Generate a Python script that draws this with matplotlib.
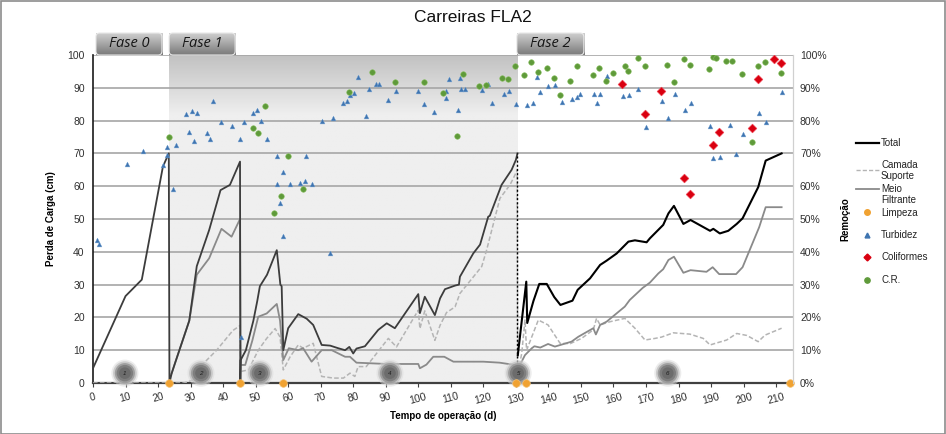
import numpy as np
import matplotlib
matplotlib.use("Agg")
import matplotlib.pyplot as plt
from matplotlib.patches import FancyBboxPatch, Rectangle
from matplotlib.lines import Line2D
import matplotlib.colors as mcolors

plt.rcParams['font.family'] = ['Liberation Sans', 'DejaVu Sans']

# ---------------- data ----------------
total_a_x = [0, 10, 15, 21.5, 23.3, 23.5, 24.2, 25.2, 29.6, 31.9, 35.7, 39.2, 42.1, 45.2, 45.3,
             45.4, 47, 49.3, 50.5, 51.3, 53.5, 56.5, 57.6, 58.0, 58.5, 60, 63.1, 65.7, 67.7, 70.3,
             72.9, 75.4, 77.5, 78.8, 80, 81, 83.6, 87.7, 90.3, 92.8, 100, 100.5, 102, 105.1,
             106.7, 108.2, 111.3, 112.5, 112.8, 116.9, 119, 121.5, 122, 125.6, 128.7, 130, 130.5]
total_a_y = [4.5, 26.5, 31.5, 66, 70, 0, 3, 6, 19, 35.6, 46.6, 58.8, 60.4, 67.5, 0,
             7, 10, 19, 25, 29.5, 33, 40.5, 30, 29.5, 10, 16.7, 21, 19.6, 17.7, 11.6,
             11.4, 10.6, 10, 11, 9, 10.5, 11.2, 16.2, 18.2, 16.7, 27.1, 21.3, 26.3, 20.7,
             25.8, 28.6, 29.7, 30, 32.4, 39.5, 42.2, 50.7, 51, 60.4, 65, 68, 70]

total_b_x = [130.6, 133.2, 133.5, 135.4, 137.2, 139.5, 141.8, 143.7, 147.4, 149.0, 152.8, 155.9,
             157.9, 161, 164.6, 166.6, 170.2, 171.2, 175.3, 176.9, 178.6, 181.5, 183.7, 189.7,
             190.7, 192.7, 195.3, 197.9, 199.7, 204.5, 206.8, 211.7]
total_b_y = [8.5, 30.9, 18.3, 25, 30.2, 30.2, 26.2, 23.8, 25.1, 28.4, 31.9, 36,
             37.3, 39.5, 43.1, 43.5, 42.9, 44.1, 48.2, 51.7, 54, 48.5, 49.7, 46.4,
             47, 45.6, 46.4, 48.5, 50.2, 59.7, 67.8, 70]

meio_x = [24.2, 25.2, 29.6, 31.9, 35.7, 39.5, 42.6, 45.2, 45.4, 46.8, 49, 50.8, 53.4, 56.5,
          57.5, 58.5, 60.2, 63.1, 64.6, 67.2, 70.3, 73.4, 77.5, 79, 81, 90.2, 100, 100.5,
          102.5, 104.6, 108, 110.8, 113, 120, 125, 129.7, 130.5, 132.8, 134.9, 135.7, 137.5,
          139.9, 142, 147.1, 149.2, 153.8, 154.6, 155.9, 157.9, 163.5, 165, 169, 171.2,
          173.8, 175.3, 176.9, 178.6, 181.5, 183.7, 188.6, 190.5, 192.5, 197.7, 199.7,
          204.8, 206.8, 211.7]
meio_y = [3, 6, 19, 33, 38, 47, 44.6, 50, 5.5, 5.5, 13, 20.2, 21.2, 24.1,
          19, 7, 10.6, 10, 10.6, 6.5, 10, 10, 8, 8, 6.2, 5.8, 5.8, 4.5,
          5.6, 8, 8, 6.5, 6.5, 6.5, 6.2, 5.5, 4, 8.5, 10.6, 11.2, 10.8,
          11.9, 11.1, 12.6, 14.1, 16.7, 14.8, 17.7, 18.7, 23.3, 25.3, 29, 30.6,
          33.4, 34.7, 37.5, 38.5, 33.6, 34.4, 33.9, 35.3, 33.2, 33.2, 35.3,
          47.5, 53.6, 53.6]

camada_x = [0, 28, 31, 33, 38, 43, 45.2, 45.4, 47.8, 50.8, 53.4, 56, 57.5, 58.5, 60.6, 63.1,
            64.6, 67.7, 70.3, 73.9, 77, 79, 80.5, 81.5, 84, 90.8, 93.3, 100, 100.5, 102,
            105.1, 106.7, 108.7, 111.3, 112.8, 119.5, 121, 125.1, 128.2, 129.7, 130.4,
            130.6, 131.8, 132.8, 133.3, 136.9, 139.9, 143.6, 146.7, 150.2, 153.8, 154.8,
            155.9, 159, 163.5, 166.6, 169.7, 172.8, 174.8, 178.4, 183.5, 187.6, 189.7,
            191.7, 194.8, 197.9, 201, 204.5, 206.6, 211.7]
camada_y = [0, 0, 1, 5, 10, 16, 17.5, 3.5, 4, 10, 13.6, 16.6, 14, 4, 8, 11.6,
            10.6, 12.1, 2, 1.5, 1.5, 3, 2, 5, 5, 13.6, 11, 22.2, 16.6, 22,
            13, 17.6, 21.5, 23.2, 27.3, 35.5, 40.5, 56.3, 60.4, 63.4, 65,
            3, 9, 19.2, 10, 19.2, 17.7, 12.1, 12, 13.6, 16.2, 19.7,
            17.7, 18.7, 19.7, 16.7, 13.1, 13.6, 14, 15.3, 14.9, 13.6, 11.6,
            12.2, 13.1, 15.1, 14.5, 12.6, 14.6, 16.7]

limpeza_x = [23.3, 45.2, 58.3, 130.1, 133.1, 214.3]
limpeza_y = [0, 0, 0, 0, 0, 0]

turb_x = [1.3, 1.8, 10.4, 15.5, 21.6, 22.6, 22.8, 24.5, 25.5, 28.6, 29.6, 30.3, 31, 32.1, 35, 36,
          37, 39.3, 42.6, 45.2, 45.4, 46.5, 49.3, 50.5, 51.5, 53.4, 56.5, 56.5, 57.5, 58.3, 58.5,
          60.6, 63.6, 65.2, 65.5, 67.4, 70.3, 72.9, 73.9, 77, 78, 79, 80.2, 81.4, 83.9, 84.8,
          87, 88, 90.8, 93, 100, 101.9, 104.8, 108.4, 108.6, 109.5, 112.3, 112.8, 113, 114.5,
          119.5, 121.5, 122.8, 126.4, 128, 129.9, 133.3, 135.4, 136.4, 137.4, 140, 142, 144.1,
          147.2, 148.9, 149.7, 154.1, 154.8, 155.9, 157.9, 162.8, 164.9, 167.7, 170, 174.8,
          176.9, 178.8, 182, 183.7, 189.7, 190.7, 192.7, 195.8, 197.7, 199.7, 204.7, 206.8, 211.7]
turb_y = [43.6, 42.4, 66.9, 70.7, 66.5, 71.8, 69.5, 59.1, 72.6, 82, 76.4, 83, 73.9, 82.2, 76.1, 74.4,
          86.1, 79.5, 78.4, 74.3, 14.1, 79.5, 82.2, 83.2, 79.9, 74.4, 69.3, 60.6, 55, 64.2, 44.8,
          60.6, 60.9, 61.7, 69.3, 60.6, 80, 39.5, 80.9, 85.3, 86.1, 87.8, 88.3, 93.4, 81.4, 89.5,
          91.1, 91.1, 86.3, 89, 89, 85.1, 82.7, 86.8, 89.1, 92.6, 83.2, 93.1, 89.6, 89.6,
          89.3, 91.2, 85.3, 88, 89, 85, 84.7, 85.5, 93.4, 88.7, 90.5, 90.9, 85.7,
          86.7, 87.3, 88, 88, 85.3, 88, 93.7, 87.5, 87.7, 89.5, 78.1, 86.1,
          80.7, 88.1, 83.2, 85.3, 78.4, 68.7, 69, 78.8, 69.7, 75.9, 82.2, 79.6, 88.8]

coli_x = [162.7, 169.7, 174.6, 181.7, 183.6, 190.5, 192.5, 202.5, 204.5, 209.4, 211.5]
coli_y = [91.3, 81.9, 89.1, 62.4, 57.5, 72.6, 76.5, 77.8, 92.7, 98.8, 97.5]

cr_x = [23.4, 49.3, 50.8, 52.9, 55.7, 57.8, 59.8, 64.6, 78.8, 85.8, 92.7, 101.7, 107.7, 111.8,
        113.6, 118.7, 120.7, 125.7, 127.7, 129.6, 132.6, 134.5, 136.7, 139.7, 141.7, 143.6,
        146.6, 148.7, 153.6, 155.6, 157.7, 159.8, 163.5, 164.6, 167.6, 169.7, 176.5, 178.7,
        181.7, 183.6, 189.4, 190.5, 191.5, 194.6, 196.5, 199.6, 202.5, 204.5, 206.6, 211.5]
cr_y = [74.9, 77.8, 76.1, 84.5, 51.9, 57, 69.2, 59.1, 88.8, 94.8, 91.9, 91.7, 88.5, 75.3,
        94.1, 90.5, 90.9, 93.1, 92.6, 96.6, 93.9, 97.9, 94.9, 96, 93, 87.9,
        92.2, 96.5, 93.9, 95.9, 92.2, 94.4, 96.7, 95.1, 99, 96.7, 97, 91.8,
        98.8, 97, 95.7, 99.5, 99.2, 98.3, 98.3, 94.1, 73.4, 96.7, 97.9, 94.6]

stage_x = [9.8, 33.2, 51.3, 91.3, 130.7, 176.7]
stage_labels = ['1', '2', '3', '4', '5', '6']

fase_labels = ['Fase 0', 'Fase 1', 'Fase 2']
fase_x0 = [0.9, 23.4, 130.3]
fase_x1 = [21.2, 43.7, 150.9]

x_ticks = list(range(0, 211, 10))
y_ticks = list(range(0, 101, 10))

# ---------------- figure ----------------
W, H = 946, 434
fig = plt.figure(figsize=(W / 100, H / 100), dpi=100)
fig.patch.set_facecolor('white')
fig.add_artist(Rectangle((0.5 / W, 0.5 / H), 1 - 1.5 / W, 1 - 1.5 / H, transform=fig.transFigure,
                         fill=False, edgecolor='#8c8c8c', lw=1.2))

ax = fig.add_axes([93 / W, 1 - 383 / H, 700 / W, 328 / H])
XMAX = 215.2
ax.set_xlim(0, XMAX)
ax.set_ylim(0, 100)

# shaded region with gradient at top
ny = 200
yy = np.linspace(100, 0, ny)
t = np.clip((100 - yy) / 18.0, 0, 1)
top = np.array(mcolors.to_rgb('#c2c2c2'))
bot = np.array(mcolors.to_rgb('#efefef'))
cols = top[None, :] * (1 - t[:, None]) + bot[None, :] * t[:, None]
img = np.repeat(cols[:, None, :], 2, axis=1)
ax.imshow(img, extent=[23.5, 130.5, 0, 100], aspect='auto', zorder=0, interpolation='bilinear')
ax.set_xlim(0, XMAX)
ax.set_ylim(0, 100)

for yv in y_ticks[1:]:
    ax.axhline(yv, color='#a6a6a6', lw=1.2, zorder=1)

# lines
ax.plot(camada_x, camada_y, color='#b4b4b4', lw=1.1, ls=(0, (3, 1.5)), zorder=3)
ax.plot(meio_x, meio_y, color='#8a8a8a', lw=1.3, zorder=3)
ax.plot(total_a_x, total_a_y, color='#3c3c3c', lw=1.3, zorder=4)
ax.plot(total_b_x, total_b_y, color='#000000', lw=1.5, zorder=4)
ax.vlines(total_a_x[-1], 0, total_a_y[-1], colors='#000000', lw=1.0, linestyles=(0, (1.5, 1.5)), zorder=4)

# stage circles
for sx, lab in zip(stage_x, stage_labels):
    for s, c, a in [(380, '#dadada', 0.5), (290, '#bdbdbd', 0.7), (210, '#9a9a9a', 0.9),
                    (140, '#7e7e7e', 1.0), (70, '#6c6c6c', 1.0)]:
        ax.scatter([sx], [3], s=s, color=c, alpha=a, edgecolors='none', zorder=6, clip_on=False)
    ax.text(sx, 3, lab, fontsize=4.5, color='#1e1e1e', ha='center', va='center', zorder=7,
            fontstyle='italic')

ax.scatter(limpeza_x, limpeza_y, s=30, color='#f0a232', edgecolors='#f5c070', lw=0.5,
           zorder=8, clip_on=False)

# axes styling
ax.set_xticks(x_ticks)
ax.set_yticks(y_ticks)
ax.set_xticklabels([str(v) for v in x_ticks], rotation=15, fontsize=7.5, color='#303030')
ax.set_yticklabels([str(v) for v in y_ticks], fontsize=7.5, color='#303030')
ax.tick_params(axis='x', direction='out', length=3, width=0.8, color='#404040', pad=3)
ax.tick_params(axis='y', length=0, pad=6)
ax.spines['left'].set_color('#1a1a1a')
ax.spines['left'].set_linewidth(1.2)
ax.spines['bottom'].set_color('#404040')
ax.spines['bottom'].set_linewidth(1.6)
ax.spines['top'].set_visible(False)
ax.spines['right'].set_color('#d0d0d0')
ax.set_ylabel('Perda de Carga (cm)', fontsize=7, fontweight='bold', labelpad=8)
ax.set_xlabel('Tempo de operação (d)', fontsize=7, fontweight='bold', labelpad=4)

# right axis
ax2 = ax.twinx()
ax2.set_ylim(0, 100)
ax2.set_xlim(0, XMAX)
ax2.set_yticks(y_ticks)
ax2.set_yticklabels([f'{v}%' for v in y_ticks], fontsize=7.5, color='#303030')
ax2.tick_params(axis='y', length=0, pad=5)
for sp in ['left', 'top', 'bottom']:
    ax2.spines[sp].set_visible(False)
ax2.spines['right'].set_color('#d0d0d0')
ax2.set_ylabel('Remoção', fontsize=7, fontweight='bold', labelpad=10)

ax2.scatter(turb_x, turb_y, marker='^', s=12, color='#3f74b0', edgecolors='#6f9fd0', lw=0.3, zorder=5)
ax2.scatter(cr_x, cr_y, marker='o', s=16, color='#5f9a3a', edgecolors='#88c060', lw=0.4, zorder=5)
ax2.scatter(coli_x, coli_y, marker='D', s=20, color='#d90010', edgecolors='#f04050', lw=0.4, zorder=5)

# fase tabs
tab_h = 22 / 3.28
tab_grad = np.linspace(0, 1, 50)
tc_top = np.array(mcolors.to_rgb('#cfcfcf'))
tc_bot = np.array(mcolors.to_rgb('#7a7a7a'))
tab_cols = tc_top[None, :] * (1 - tab_grad[:, None]) + tc_bot[None, :] * tab_grad[:, None]
tab_img = np.repeat(tab_cols[:, None, :], 2, axis=1)
for lab, x0, x1 in zip(fase_labels, fase_x0, fase_x1):
    patch = FancyBboxPatch((x0, 100), x1 - x0, tab_h,
                           boxstyle='round,pad=0,rounding_size=1.2', mutation_aspect=3.28 / 3.253,
                           facecolor='none', edgecolor='#e8e8e8', lw=0.8, clip_on=False, zorder=9)
    ax.add_patch(patch)
    im = ax.imshow(tab_img, extent=[x0, x1, 100, 100 + tab_h], aspect='auto', zorder=8,
                   interpolation='bilinear', clip_on=False)
    im.set_clip_path(patch)
    ax.text((x0 + x1) / 2, 100 + tab_h / 2, lab, fontsize=10.5, fontstyle='italic',
            family=['Open Sans', 'DejaVu Sans'], color='#161616', ha='center', va='center',
            zorder=10, clip_on=False)
ax.set_xlim(0, XMAX)
ax.set_ylim(0, 100)

fig.text(0.5, 1 - 18 / H, 'Carreiras FLA2', fontsize=12.5, ha='center', va='center', color='#111111')

# legend (manual)
def fx(px):
    return px / W

def fy(py):
    return 1 - py / H

lx0, lx1, tx = 856, 879, 881
txt_kw = dict(fontsize=7, va='center', color='#222222')
fig.add_artist(Line2D([fx(lx0), fx(lx1)], [fy(143), fy(143)], color='#000000', lw=1.6))
fig.text(fx(tx), fy(143), 'Total', **txt_kw)
fig.add_artist(Line2D([fx(lx0), fx(lx1)], [fy(170), fy(170)], color='#b4b4b4', lw=1.0,
                      ls=(0, (3, 1.5))))
fig.text(fx(tx), fy(165.5), 'Camada', **txt_kw)
fig.text(fx(tx), fy(176), 'Suporte', **txt_kw)
fig.add_artist(Line2D([fx(lx0), fx(lx1)], [fy(189), fy(189)], color='#8a8a8a', lw=1.3))
fig.text(fx(tx), fy(189.5), 'Meio', **txt_kw)
fig.text(fx(tx), fy(200), 'Filtrante', **txt_kw)
mk_x = fx(866.5)
fig.add_artist(Line2D([mk_x], [fy(212)], marker='o', ms=4, color='#f0a232', lw=0))
fig.text(fx(tx), fy(212.5), 'Limpeza', **txt_kw)
fig.add_artist(Line2D([mk_x], [fy(235)], marker='^', ms=3.5, color='#3f74b0', lw=0))
fig.text(fx(tx), fy(235), 'Turbidez', **txt_kw)
fig.add_artist(Line2D([mk_x], [fy(257)], marker='D', ms=3.5, color='#d90010', lw=0))
fig.text(fx(tx), fy(257), 'Coliformes', **txt_kw)
fig.add_artist(Line2D([mk_x], [fy(280)], marker='o', ms=3.8, color='#5f9a3a', lw=0))
fig.text(fx(tx), fy(280), 'C.R.', **txt_kw)

fig.savefig('out.png', dpi=100, facecolor='white')
